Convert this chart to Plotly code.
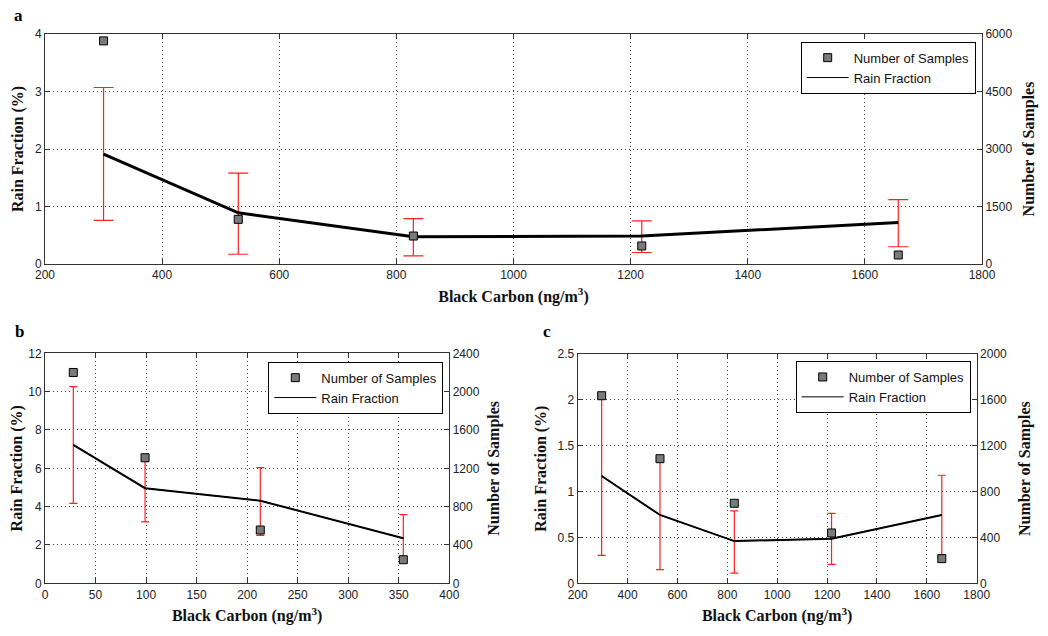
import plotly.graph_objects as go

# ---------------- data ----------------
# Panel a
bc_a = [300, 530, 829, 1219, 1657]
rain_a = [1.91, 0.89, 0.475, 0.487, 0.72]
rain_a_hi = [3.07, 1.58, 0.79, 0.75, 1.12]
rain_a_lo = [0.76, 0.17, 0.14, 0.20, 0.30]
samples_a = [5820, 1165, 730, 470, 235]

# Panel b
bc_b = [28, 99, 213, 354.5]
rain_b = [7.22, 4.96, 4.31, 2.35]
rain_b_hi = [10.26, 6.7, 6.03, 3.58]
rain_b_lo = [4.17, 3.2, 2.5, 1.12]
samples_b = [2200, 1310, 556, 246]

# Panel c
bc_c = [296, 530, 828, 1218, 1660]
rain_c = [1.17, 0.745, 0.46, 0.487, 0.745]
rain_c_hi = [2.03, 1.34, 0.79, 0.763, 1.178]
rain_c_lo = [0.305, 0.15, 0.11, 0.207, 0.31]
samples_c = [1636, 1087, 698, 439, 215]

panel_labels = ["a", "b", "c"]
x_title = "Black Carbon (ng/m<sup>3</sup>)"
y_title = "Rain Fraction (%)"
y2_title = "Number of Samples"

# ---------------- styles ----------------
# The page body has an 8px margin, so the figure is 8px smaller than the window
OFF = 8
WF, HF = 1048 - OFF, 636 - OFF

def fx(px):
    return (px - OFF) / WF

def fy(py):
    return 1 - (py - OFF) / HF

TICK_FONT = dict(family="Liberation Sans", size=12, color="#222")
TITLE_FONT = dict(family="Liberation Serif", size=16, color="#111", weight="bold")
LEG_FONT = dict(family="Liberation Sans", size=13, color="#111")
GRID = dict(showgrid=True, gridcolor="#444", griddash="1px,3px", gridwidth=1)
AXCOL = "#333"

fig = go.Figure()

panels = [
    dict(x=bc_a, r=rain_a, hi=rain_a_hi, lo=rain_a_lo, s=samples_a, lw=3, cap=10,
         xa="x", ya="y", ya2="y2", leg="legend"),
    dict(x=bc_b, r=rain_b, hi=rain_b_hi, lo=rain_b_lo, s=samples_b, lw=2, cap=4,
         xa="x2", ya="y3", ya2="y4", leg="legend2"),
    dict(x=bc_c, r=rain_c, hi=rain_c_hi, lo=rain_c_lo, s=samples_c, lw=2, cap=4,
         xa="x3", ya="y5", ya2="y6", leg="legend3"),
]

for p in panels:
    # thin line carrying the legend entry and the red error bars
    fig.add_trace(go.Scatter(
        x=p["x"], y=p["r"], mode="lines", name="Rain Fraction",
        line=dict(color="black", width=1),
        error_y=dict(type="data", symmetric=False,
                     array=[h - r for h, r in zip(p["hi"], p["r"])],
                     arrayminus=[r - l for r, l in zip(p["r"], p["lo"])],
                     color="#ff2020", thickness=1.2, width=p["cap"]),
        xaxis=p["xa"], yaxis=p["ya"], legend=p["leg"], legendrank=2,
    ))
    # the thicker drawn line
    fig.add_trace(go.Scatter(
        x=p["x"], y=p["r"], mode="lines", name="Rain Fraction",
        line=dict(color="black", width=p["lw"]), showlegend=False,
        xaxis=p["xa"], yaxis=p["ya"], hoverinfo="skip",
    ))
    fig.add_trace(go.Scatter(
        x=p["x"], y=p["s"], mode="markers", name="Number of Samples",
        marker=dict(symbol="square", size=8, color="#7a7a7a",
                    line=dict(color="black", width=1)),
        xaxis=p["xa"], yaxis=p["ya2"], legend=p["leg"], legendrank=1,
    ))

def xaxis(domain, anchor, rng, dtick):
    return dict(domain=domain, anchor=anchor, range=rng, dtick=dtick,
                showline=True, linecolor=AXCOL, linewidth=1, mirror="ticks",
                ticks="inside", ticklen=5, tickcolor=AXCOL,
                tickfont=TICK_FONT, zeroline=False, automargin=False,
                title=dict(text=x_title, font=TITLE_FONT, standoff=9),
                **GRID)

def yaxis(domain, anchor, rng, dtick):
    return dict(domain=domain, anchor=anchor, range=rng, dtick=dtick,
                showline=True, linecolor=AXCOL, linewidth=1,
                ticks="inside", ticklen=5, tickcolor=AXCOL,
                tickfont=TICK_FONT, zeroline=False, exponentformat="none",
                automargin=False,
                title=dict(text=y_title, font=TITLE_FONT, standoff=7),
                **GRID)

def yaxis2(over, anchor, rng, dtick, standoff):
    return dict(overlaying=over, anchor=anchor, side="right", range=rng, dtick=dtick,
                showline=True, linecolor=AXCOL, linewidth=1,
                ticks="inside", ticklen=5, tickcolor=AXCOL,
                tickfont=TICK_FONT, zeroline=False, showgrid=False,
                exponentformat="none", automargin=False,
                title=dict(text=y2_title, font=TITLE_FONT, standoff=standoff))

dom_a_x = [fx(45), fx(982)]
dom_a_y = [fy(264), fy(34)]
dom_b_x = [fx(45), fx(449.3)]
dom_b_y = [fy(583.3), fy(353.3)]
dom_c_x = [fx(577.7), fx(976.7)]
dom_c_y = [fy(583.3), fy(354)]

def legend(xr, yt):
    return dict(x=fx(xr), y=fy(yt), xanchor="right", yanchor="top",
                bgcolor="white", bordercolor="black", borderwidth=1,
                font=LEG_FONT, tracegroupgap=0, itemwidth=42)

fig.update_layout(
    width=WF, height=HF,
    margin=dict(l=0, r=0, t=0, b=0),
    paper_bgcolor="white", plot_bgcolor="white",
    xaxis=xaxis(dom_a_x, "y", [200, 1800], 200),
    yaxis=yaxis(dom_a_y, "x", [0, 4], 1),
    yaxis2=yaxis2("y", "x", [0, 6000], 1500, 11),
    xaxis2=xaxis(dom_b_x, "y3", [0, 400], 50),
    yaxis3=yaxis(dom_b_y, "x2", [0, 12], 2),
    yaxis4=yaxis2("y3", "x2", [0, 2400], 400, 9),
    xaxis3=xaxis(dom_c_x, "y5", [200, 1800], 200),
    yaxis5=yaxis(dom_c_y, "x3", [0, 2.5], 0.5),
    yaxis6=yaxis2("y5", "x3", [0, 2000], 400, 12),
    legend=legend(975.7, 41.7),
    legend2=legend(443.3, 361.7),
    legend3=legend(970.7, 361.0),
    showlegend=True,
)

letter_pos = [(18, 15), (19, 331), (547, 331)]
for lab, (px, py) in zip(panel_labels, letter_pos):
    fig.add_annotation(x=fx(px), y=fy(py), xref="paper", yref="paper",
                       text=lab, showarrow=False, xanchor="center", yanchor="middle",
                       font=dict(family="Liberation Serif", size=17, color="black",
                                 weight="bold"))

fig.write_html("out.html")
